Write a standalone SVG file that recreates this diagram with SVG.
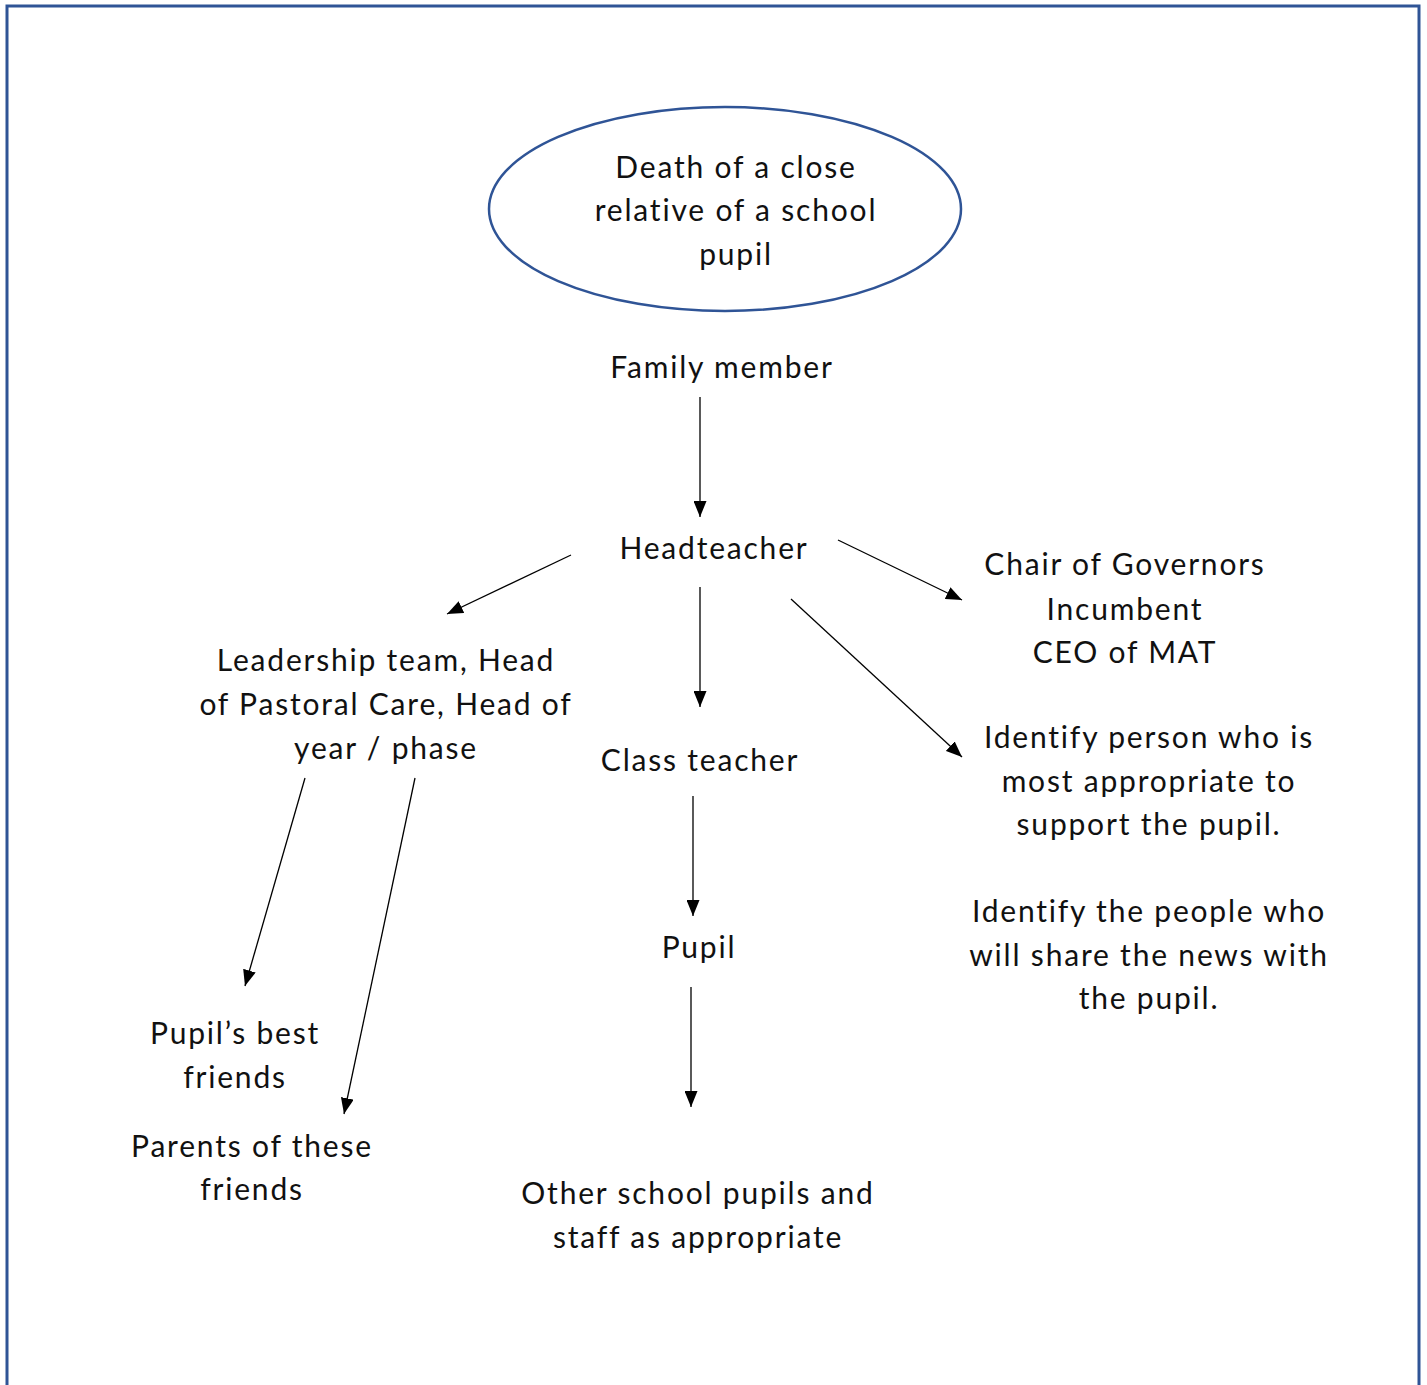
<svg xmlns="http://www.w3.org/2000/svg" width="1427" height="1385" viewBox="0 0 1427 1385">
<defs>
<style>
text{font-family:Lato,"Noto Sans","Liberation Sans",sans-serif;font-size:30px;font-weight:400;letter-spacing:1.8px;fill:#111;text-anchor:middle}
.c line{stroke:#000;stroke-width:1.3;marker-end:url(#ah)}
</style>
<marker id="ah" markerUnits="userSpaceOnUse" markerWidth="17" markerHeight="13" refX="16" refY="6.5" orient="auto"><path d="M0,0 L16,6.5 L0,13 z" fill="#000"/></marker>
</defs>
<rect x="0" y="0" width="1427" height="1385" fill="#fff"/>
<rect x="7" y="6" width="1412" height="1420" fill="none" stroke="#2F5496" stroke-width="3"/>
<g id="event">
<ellipse cx="725" cy="209" rx="236" ry="102" fill="#fff" stroke="#2F5496" stroke-width="2.5"/>
<text x="736" y="178">Death of a close</text>
<text x="736" y="221">relative of a school</text>
<text x="736" y="265">pupil</text>
</g>
<g id="family"><text x="722" y="378">Family member</text></g>
<g id="head"><text x="714" y="559">Headteacher</text></g>
<g id="chair"><text x="1125" y="575">Chair of Governors</text><text x="1125" y="620">Incumbent</text><text x="1125" y="663">CEO of MAT</text></g>
<g id="leadership"><text x="386" y="671">Leadership team, Head</text><text x="386" y="715">of Pastoral Care, Head of</text><text x="386" y="759">year / phase</text></g>
<g id="classteacher"><text x="700" y="771">Class teacher</text></g>
<g id="identify"><text x="1149" y="748">Identify person who is</text><text x="1149" y="792">most appropriate to</text><text x="1149" y="835">support the pupil.</text><text x="1149" y="922">Identify the people who</text><text x="1149" y="966">will share the news with</text><text x="1149" y="1009">the pupil.</text></g>
<g id="pupil"><text x="699" y="958">Pupil</text></g>
<g id="bestfriends"><text x="235" y="1044">Pupil’s best</text><text x="235" y="1088">friends</text></g>
<g id="parents"><text x="252" y="1157">Parents of these</text><text x="252" y="1200">friends</text></g>
<g id="others"><text x="698" y="1204">Other school pupils and</text><text x="698" y="1248">staff as appropriate</text></g>
<g id="connectors" class="c">
<line x1="700" y1="397" x2="700" y2="517"/>
<line x1="571" y1="555" x2="447" y2="614"/>
<line x1="700" y1="587" x2="700" y2="707"/>
<line x1="838" y1="540" x2="962" y2="600"/>
<line x1="791" y1="599" x2="962" y2="757"/>
<line x1="693" y1="796" x2="693" y2="916"/>
<line x1="691" y1="987" x2="691" y2="1107"/>
<line x1="305" y1="778" x2="245" y2="986"/>
<line x1="415" y1="778" x2="344" y2="1114"/>
</g>
</svg>
